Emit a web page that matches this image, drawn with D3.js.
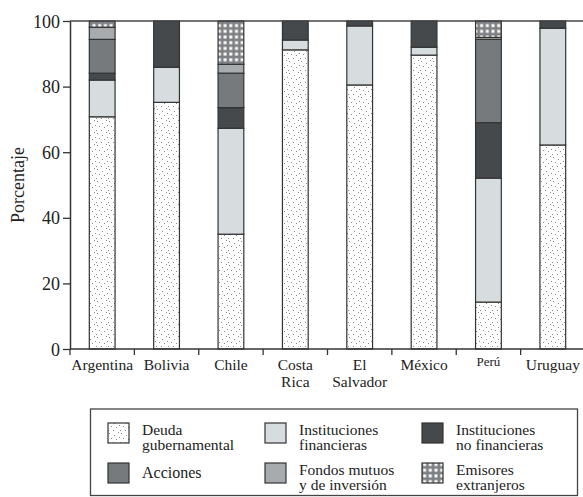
<!DOCTYPE html>
<html><head><meta charset="utf-8">
<script src="https://cdn.jsdelivr.net/npm/d3@7"></script>
<style>body{margin:0;background:#fff}svg{display:block}svg text{font-family:'Liberation Serif','DejaVu Serif',serif !important;fill:#222}</style>
</head><body><svg id="c" width="583" height="497"></svg>
<script>
const categories = ["Argentina","Bolivia","Chile","Costa Rica","El Salvador","México","Perú","Uruguay"];
const seriesNames = ["Deuda gubernamental","Instituciones financieras","Instituciones no financieras","Acciones","Fondos mutuos y de inversión","Emisores extranjeros"];
const deuda      = [70.8, 75.2, 35.0, 91.2, 80.5, 89.6, 14.3, 62.2];
const instFin    = [11.2, 10.7, 32.3,  3.0, 18.0,  2.4, 37.8, 35.6];
const instNoFin  = [ 2.1, 14.1,  6.3,  5.8,  1.5,  8.0, 16.9,  2.2];
const acciones   = [10.3,  0,   10.5,  0,    0,    0,   25.4,  0];
const fondos     = [ 3.7,  0,    2.7,  0,    0,    0,    0.6,  0];
const emisores   = [ 1.9,  0,   13.2,  0,    0,    0,    5.0,  0];
const yTicks = [0,20,40,60,80,100];
const legendLines = [["Deuda","gubernamental"],["Instituciones","financieras"],["Instituciones","no financieras"],["Acciones"],["Fondos mutuos","y de inversión"],["Emisores","extranjeros"]];

(function(){
const FONT = "'Liberation Serif','DejaVu Serif',serif";
const svg = d3.select("#c");
const defs = svg.append("defs");
const pd = defs.append("pattern").attr("id","dots").attr("patternUnits","userSpaceOnUse").attr("width",12).attr("height",12);
pd.append("rect").attr("width",12).attr("height",12).attr("fill","#fff");
[[1,1],[6,3],[10,0],[3,6],[8,7],[0,10],[5,10],[11,5]].forEach(p=>pd.append("rect").attr("x",p[0]).attr("y",p[1]).attr("width",1).attr("height",1).attr("fill","#8a8a8a"));
const pg = defs.append("pattern").attr("id","grid").attr("patternUnits","userSpaceOnUse").attr("width",5.7).attr("height",5.7);
pg.append("rect").attr("width",5.7).attr("height",5.7).attr("fill","#7d8083");
pg.append("rect").attr("x",1.3).attr("y",1.3).attr("width",3).attr("height",3).attr("fill","#fff");

const fills = ["url(#dots)","#d7dddf","#45494c","#767a7c","#a8abad","url(#grid)"];
const seriesData = [deuda,instFin,instNoFin,acciones,fondos,emisores];

const L=70, R=585, T=21, B=349;
const x = d3.scaleBand().domain(categories).range([L,R]).paddingInner(0.6).paddingOuter(0.3);
const y = d3.scaleLinear().domain([0,100]).range([B,T]);

const rows = categories.map((c,i)=>{const o={cat:c}; seriesNames.forEach((s,j)=>o[s]=seriesData[j][i]); return o;});
const stack = d3.stack().keys(seriesNames)(rows);

const g = svg.append("g");
stack.forEach((layer,j)=>{
  g.selectAll(null).data(layer.filter(d=>d[1]-d[0]>0)).enter().append("rect")
    .attr("x",d=>x(d.data.cat)).attr("width",x.bandwidth())
    .attr("y",d=>y(d[1])).attr("height",d=>y(d[0])-y(d[1]))
    .attr("fill",fills[j]).attr("stroke","#333").attr("stroke-width",1.2);
});

svg.append("line").attr("x1",L).attr("x2",583).attr("y1",y(100)).attr("y2",y(100)).attr("stroke","#444").attr("stroke-width",1.5);
const ya = svg.append("g").attr("transform",`translate(${L},0)`).call(d3.axisLeft(y).tickValues(yTicks).tickSize(7).tickSizeOuter(0));
ya.attr("font-family",FONT);
ya.select(".domain").attr("stroke","#333").attr("stroke-width",1.5);
ya.selectAll(".tick line").attr("stroke","#333").attr("stroke-width",1.3);
ya.selectAll(".tick text").attr("font-size",18).attr("font-family",FONT).attr("fill","#222").attr("x",-10).attr("dy","0.34em");
svg.append("line").attr("x1",L).attr("x2",583).attr("y1",B).attr("y2",B).attr("stroke","#333").attr("stroke-width",1.5);
const bounds = categories.map(c=>x(c)-x.step()*0.3).concat([R]);
svg.selectAll(null).data(bounds).enter().append("line")
  .attr("x1",d=>d).attr("x2",d=>d).attr("y1",B).attr("y2",B+6).attr("stroke","#333").attr("stroke-width",1.3);
const catLines = {"Costa Rica":["Costa","Rica"],"El Salvador":["El","Salvador"]};
categories.forEach(c=>{
  const lines = catLines[c]||[c];
  const t = svg.append("text").attr("font-family",FONT).attr("text-anchor","middle").attr("x",x(c)+x.bandwidth()/2)
    .attr("y", c==="Perú"?366:370).attr("font-size", c==="Perú"?13:15.5);
  lines.forEach((l,k)=>t.append("tspan").attr("x",x(c)+x.bandwidth()/2).attr("dy",k?17:0).text(l));
});
svg.append("text").attr("font-family",FONT).attr("transform",`translate(24,${(T+B)/2}) rotate(-90)`).attr("text-anchor","middle").attr("font-size",18).text("Porcentaje");

svg.append("rect").attr("x",90.5).attr("y",409).attr("width",487).attr("height",86.5).attr("fill","none").attr("stroke","#444").attr("stroke-width",1.3);
const colX=[108,265,422], rowY=[423,463];
seriesNames.forEach((s,i)=>{
  const col=i%3, row=Math.floor(i/3);
  svg.append("rect").attr("x",colX[col]).attr("y",rowY[row]).attr("width",21).attr("height",20)
    .attr("fill",fills[i]).attr("stroke","#333").attr("stroke-width",1.2);
  const lines=legendLines[i];
  if(lines.length===1){
    svg.append("text").attr("font-family",FONT).attr("font-size",16).attr("x",colX[col]+34).attr("y",rowY[row]+15).text(lines[0]);
  } else {
    lines.forEach((l,k)=>svg.append("text").attr("font-family",FONT).attr("font-size",15.5).attr("x",colX[col]+34).attr("y",rowY[row]+12+k*15).text(l));
  }
});
})();
</script></body></html>
